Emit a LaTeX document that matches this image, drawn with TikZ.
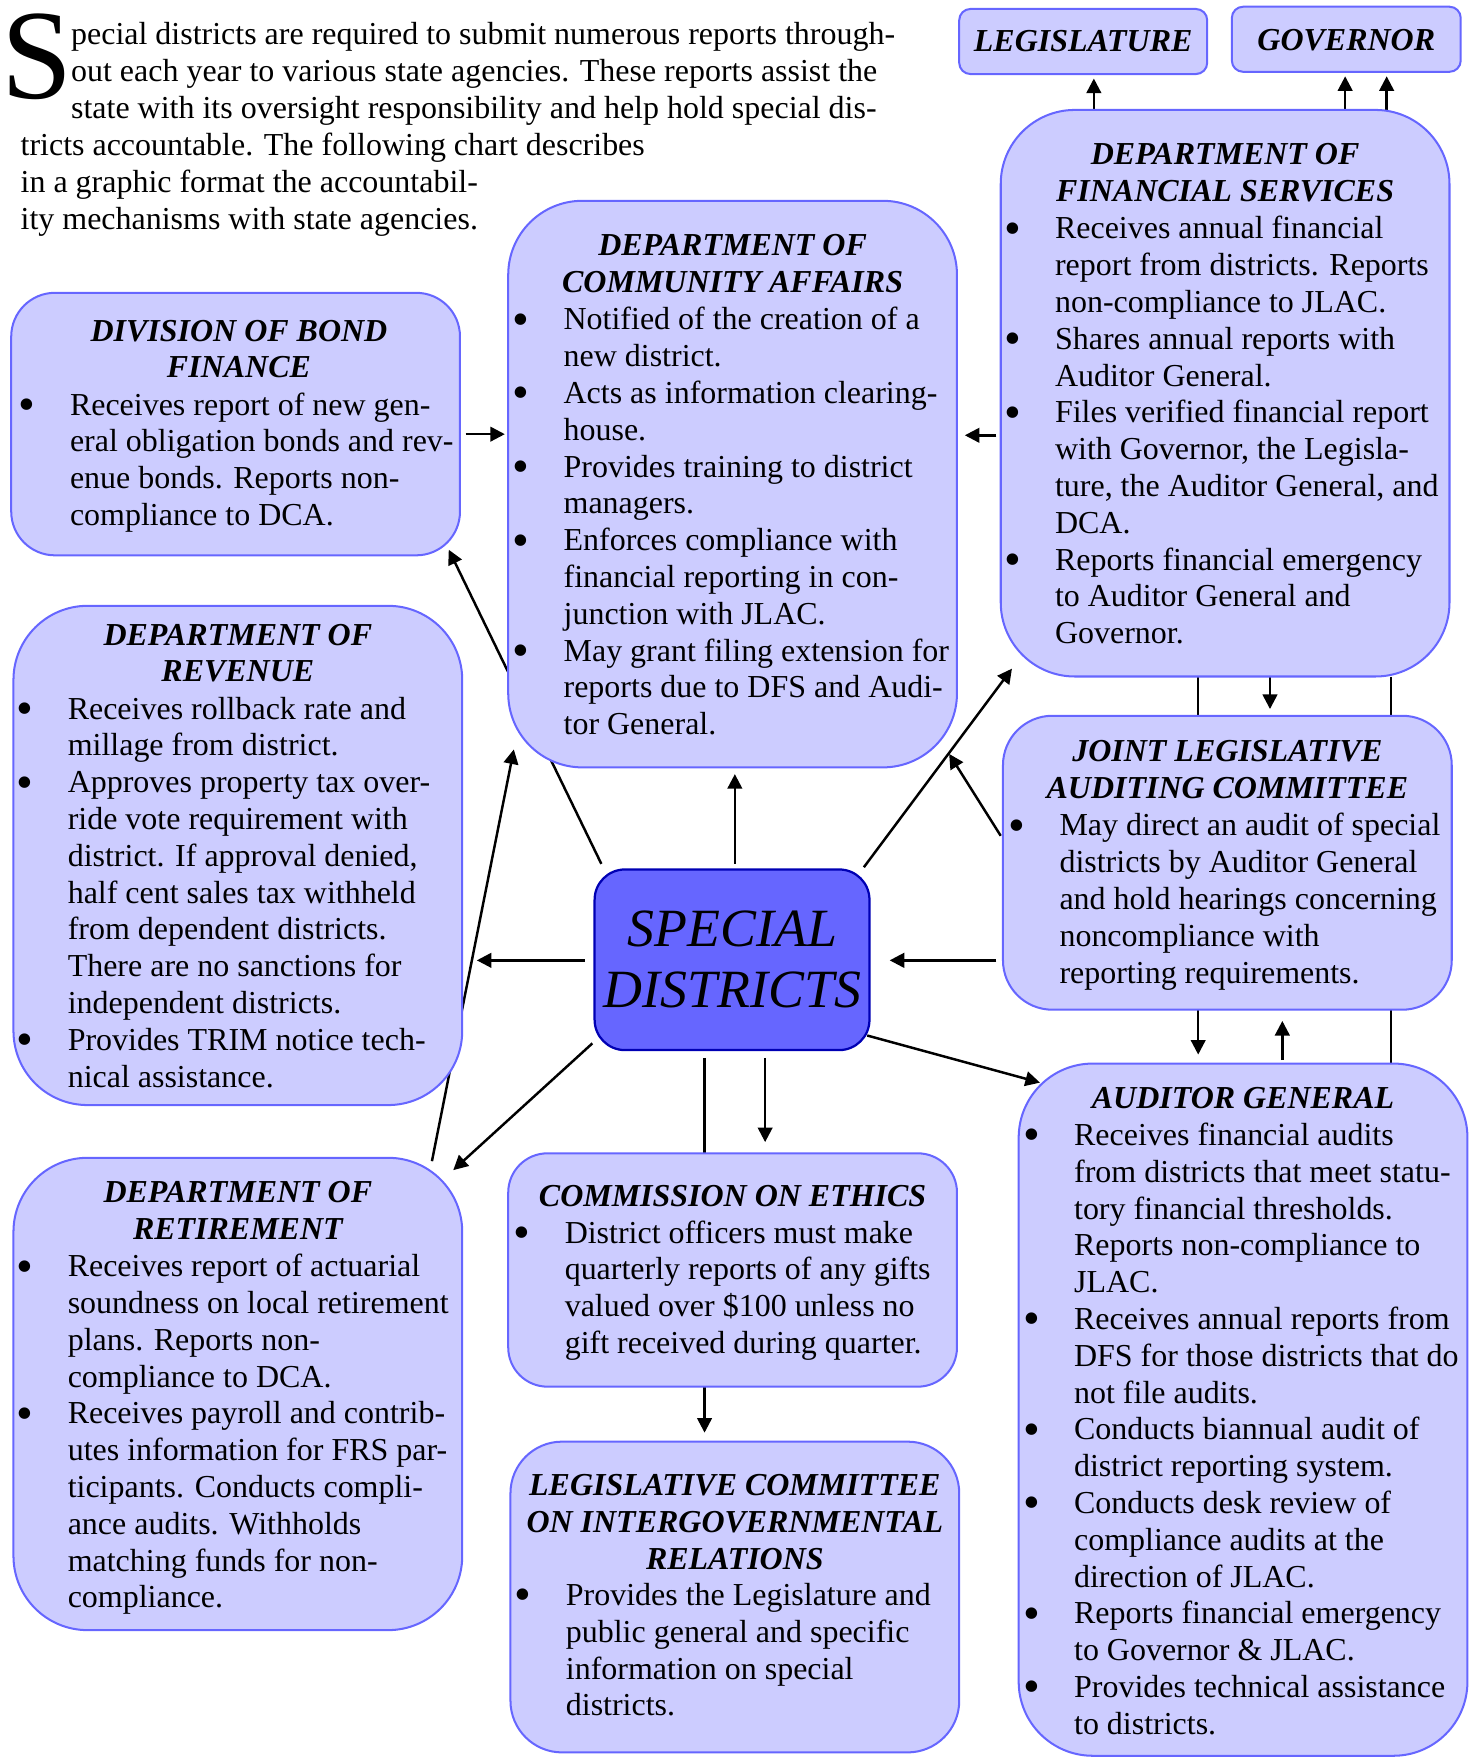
\documentclass[tikz,border=0pt]{standalone}
\usepackage{fontspec}
\setmainfont{Liberation Serif}
\usetikzlibrary{arrows.meta,backgrounds}
\definecolor{boxfill}{RGB}{204,204,255}
\definecolor{boxline}{RGB}{102,102,255}
\definecolor{sdfill}{RGB}{102,102,255}
\definecolor{sdline}{RGB}{0,0,180}
\newcommand\bodysize{\fontsize{14.25}{16.4}\selectfont}
\newcommand\B{\llap{\makebox[0pt]{\raisebox{-2.4pt}{\scalebox{1.5}{\textbullet}}}\hspace{19pt}}}
\newcommand\rbox[7]{%
  \pgfmathsetmacro\bw{(#5-#3)*0.5}%
  \pgfmathsetmacro\bh{(#6-#4)*0.5}%
  \pgfmathsetmacro\br{#7*0.5}%
  \node[#1, rounded corners=\br pt, minimum width=\bw pt, minimum height=\bh pt] (#2) at ({(#3+#5)/2},{(#4+#6)/2}) {};%
}
\newcommand\ttl[3]{\node[titletext] at (#1,#2) {\begin{tabular}[t]{@{}c@{}}#3\end{tabular}};}
\newcommand\bdy[3]{\node[bodytext] at (#1,#2) {\begin{tabular}[t]{@{}l@{}}#3\end{tabular}};}
\tikzset{
  agency/.style={draw=boxline, fill=boxfill, line width=0.9pt, rectangle, inner sep=0pt, outer sep=0pt},
  core/.style={draw=sdline, fill=sdfill, line width=1pt, rectangle, inner sep=0pt, outer sep=0pt},
  titletext/.style={anchor=base, inner sep=0pt, font=\bodysize\bfseries\itshape},
  bodytext/.style={anchor=base west, inner sep=0pt, font=\bodysize},
  arr/.style={-{Triangle[length=6.5pt,width=6.5pt]}, line width=1.1pt},
  plain/.style={line width=1.1pt}
}
\begin{document}
\begin{tikzpicture}[x=0.5pt,y=-0.5pt]
\useasboundingbox (0,0) rectangle (1313,1567);

% intro text
\node[anchor=base west, inner sep=0pt, font=\fontsize{57}{57}\selectfont] (dropcap) at (1,88) {S};
\node[bodytext] (intro1) at (63,40) {\begin{tabular}[t]{@{}l@{}}pecial districts are required to submit numerous reports through-\\
out each year to various state agencies. These reports assist the\\
state with its oversight responsibility and help hold special dis-\end{tabular}};
\node[bodytext] (intro2) at (18,139) {\begin{tabular}[t]{@{}l@{}}tricts accountable. The following chart describes\\
in a graphic format the accountabil-\\
ity mechanisms with state agencies.\end{tabular}};

% boxes
\rbox{agency}{legis}{855}{8}{1076}{66}{10}
\rbox{agency}{gov}{1098}{6}{1302}{64}{10}
\rbox{agency}{dfs}{892}{98}{1292}{603}{66}
\rbox{agency}{dca}{453}{179}{853}{684}{66}
\rbox{agency}{bond}{10}{261}{410}{495}{39}
\rbox{agency}{rev}{12}{540}{412}{985}{66}
\rbox{core}{sd}{530}{775}{775}{936}{27}
\rbox{agency}{jlac}{894}{638}{1294}{900}{44}
\rbox{agency}{ag}{908}{948}{1308}{1565}{66}
\rbox{agency}{ret}{12}{1032}{412}{1453}{66}
\rbox{agency}{eth}{453}{1028}{853}{1236}{35}
\rbox{agency}{lcir}{455}{1285}{855}{1562}{46}

% small top boxes
\ttl{965.5}{46}{LEGISLATURE}
\ttl{1200}{45}{GOVERNOR}

% special districts
\node[anchor=base, inner sep=0pt, font=\fontsize{24}{27}\selectfont\itshape] at (653,844) {\begin{tabular}[t]{@{}c@{}}SPECIAL\\DISTRICTS\end{tabular}};

% DFS
\ttl{1092}{147}{DEPARTMENT OF\\FINANCIAL SERVICES}
\bdy{940}{213}{\B Receives annual financial\\
report from districts. Reports\\
non-compliance to JLAC.\\
\B Shares annual reports with\\
Auditor General.\\
\B Files verified financial report\\
with Governor, the Legisla-\\
ture, the Auditor General, and\\
DCA.\\
\B Reports financial emergency\\
to Auditor General and\\
Governor.}

% DCA
\ttl{653}{228}{DEPARTMENT OF\\COMMUNITY AFFAIRS}
\bdy{502}{294}{\B Notified of the creation of a\\
new district.\\
\B Acts as information clearing-\\
house.\\
\B Provides training to district\\
managers.\\
\B Enforces compliance with\\
financial reporting in con-\\
junction with JLAC.\\
\B May grant filing extension for\\
reports due to DFS and Audi-\\
tor General.}

% Bond finance
\ttl{213}{304}{DIVISION OF BOND\\FINANCE}
\bdy{62}{370}{\B Receives report of new gen-\\
eral obligation bonds and rev-\\
enue bonds. Reports non-\\
compliance to DCA.}

% Revenue
\ttl{212}{575}{DEPARTMENT OF\\REVENUE}
\bdy{60}{641}{\B Receives rollback rate and\\
millage from district.\\
\B Approves property tax over-\\
ride vote requirement with\\
district. If approval denied,\\
half cent sales tax withheld\\
from dependent districts.\\
There are no sanctions for\\
independent districts.\\
\B Provides TRIM notice tech-\\
nical assistance.}

% JLAC
\ttl{1094}{679}{JOINT LEGISLATIVE\\AUDITING COMMITTEE}
\bdy{944}{745}{\B May direct an audit of special\\
districts by Auditor General\\
and hold hearings concerning\\
noncompliance with\\
reporting requirements.}

% Auditor General
\ttl{1108}{988}{AUDITOR GENERAL}
\bdy{957}{1021}{\B Receives financial audits\\
from districts that meet statu-\\
tory financial thresholds.\\
Reports non-compliance to\\
JLAC.\\
\B Receives annual reports from\\
DFS for those districts that do\\
not file audits.\\
\B Conducts biannual audit of\\
district reporting system.\\
\B Conducts desk review of\\
compliance audits at the\\
direction of JLAC.\\
\B Reports financial emergency\\
to Governor \& JLAC.\\
\B Provides technical assistance\\
to districts.}

% Retirement
\ttl{212}{1072}{DEPARTMENT OF\\RETIREMENT}
\bdy{60}{1138}{\B Receives report of actuarial\\
soundness on local retirement\\
plans. Reports non-\\
compliance to DCA.\\
\B Receives payroll and contrib-\\
utes information for FRS par-\\
ticipants. Conducts compli-\\
ance audits. Withholds\\
matching funds for non-\\
compliance.}

% Ethics
\ttl{653}{1075}{COMMISSION ON ETHICS}
\bdy{503}{1108}{\B District officers must make\\
quarterly reports of any gifts\\
valued over \$100 unless no\\
gift received during quarter.}

% LCIR
\ttl{655}{1333}{LEGISLATIVE COMMITTEE\\ON INTERGOVERNMENTAL\\RELATIONS}
\bdy{504}{1431}{\B Provides the Legislature and\\
public general and specific\\
information on special\\
districts.}

% connectors
\begin{scope}[on background layer]
\draw[arr] ([shift={(5,9)}]bond.east) -- ([shift={(-3,-44.5)}]dca.west);
\draw[arr] ([shift={(-4,37.5)}]dfs.west) -- ([shift={(7,-43.5)}]dca.east);
\draw[arr] ([shift={(-117,0)}]dfs.north) -- ([shift={(9.5,4)}]legis.south);
\draw[arr] ([shift={(107,0)}]dfs.north) -- ([shift={(-1,4)}]gov.south);
\draw[arr] ([shift={(144,0)}]dfs.north) -- ([shift={(36,4)}]gov.south);
\draw[arr] ([shift={(40,0)}]dfs.south) -- ([shift={(38,-6)}]jlac.north);
\draw[arr] ([shift={(-24,0)}]dfs.south) -- ([shift={(-40,-8)}]ag.north);
\draw[plain] ([shift={(148,0)}]dfs.south) -- ([shift={(132,0)}]ag.north);
\draw[arr] ([shift={(35,-3)}]ag.north) -- ([shift={(49,10)}]jlac.south);
\draw[arr] ([shift={(-6,87)}]jlac.west) -- ([shift={(18,0.5)}]sd.east);
\draw[arr] ([shift={(-5,-2)}]sd.north east) -- ([shift={(10,-7)}]dfs.south west);
\draw[arr] ([shift={(-2,-24)}]jlac.west) -- ([shift={(-7,-12)}]dca.south east);
\draw[arr] ([shift={(2.5,-5)}]sd.north) -- ([shift={(2,6)}]dca.south);
\draw[arr] ([shift={(6,-5)}]sd.north west) -- ([shift={(-10,-5)}]bond.south east);
\draw[arr] ([shift={(-9,0.5)}]sd.west) -- ([shift={(13,93.5)}]rev.east);
\draw[arr] ([shift={(-27,3)}]ret.north east) -- ([shift={(5,-16)}]dca.south west);
\draw[arr] ([shift={(-2,-6)}]sd.south west) -- ([shift={(-8,11)}]ret.north east);
\draw[arr] ([shift={(-24.5,7)}]sd.south) -- ([shift={(-27,-8)}]lcir.north);
\draw[arr] ([shift={(29.5,7)}]sd.south) -- ([shift={(29,-10)}]eth.north);
\draw[arr] ([shift={(-2,-13)}]sd.south east) -- ([shift={(19,17)}]ag.north west);
\end{scope}
\end{tikzpicture}
\end{document}
